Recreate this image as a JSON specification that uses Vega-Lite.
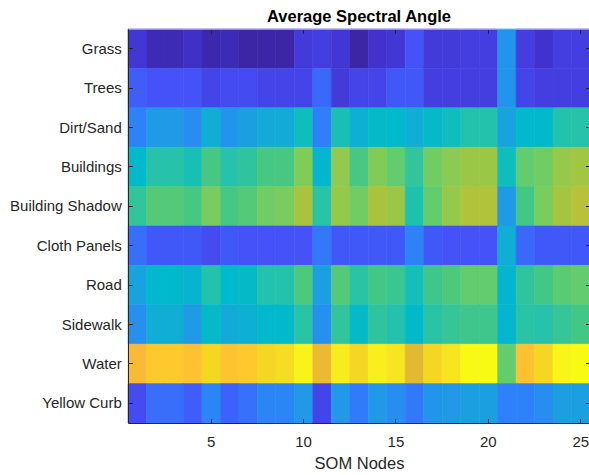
{
"$schema": "https://vega.github.io/schema/vega-lite/v6.json",
"width": 462, "height": 394,
"autosize": "none",
"padding": {"left": 128, "top": 29, "right": 0, "bottom": 52},
"title": {"text": "Average Spectral Angle", "font": "Liberation Sans", "fontSize": 16.5, "fontWeight": "bold", "color": "#000000", "anchor": "middle", "baseline": "alphabetic", "offset": 8.3, "dy": 18.7},
"data": {"values": [
{"c":"Grass","n":1,"v":0.06},{"c":"Grass","n":2,"v":0.02},{"c":"Grass","n":3,"v":0.02},{"c":"Grass","n":4,"v":0.04},{"c":"Grass","n":5,"v":0.01},{"c":"Grass","n":6,"v":0.02},{"c":"Grass","n":7,"v":0.0},{"c":"Grass","n":8,"v":0.0},{"c":"Grass","n":9,"v":0.0},{"c":"Grass","n":10,"v":0.07},{"c":"Grass","n":11,"v":0.08},{"c":"Grass","n":12,"v":0.06},{"c":"Grass","n":13,"v":0.0},{"c":"Grass","n":14,"v":0.05},{"c":"Grass","n":15,"v":0.06},{"c":"Grass","n":16,"v":0.11},{"c":"Grass","n":17,"v":0.07},{"c":"Grass","n":18,"v":0.07},{"c":"Grass","n":19,"v":0.08},{"c":"Grass","n":20,"v":0.08},{"c":"Grass","n":21,"v":0.27},{"c":"Grass","n":22,"v":0.08},{"c":"Grass","n":23,"v":0.05},{"c":"Grass","n":24,"v":0.08},{"c":"Grass","n":25,"v":0.08},
{"c":"Trees","n":1,"v":0.13},{"c":"Trees","n":2,"v":0.11},{"c":"Trees","n":3,"v":0.11},{"c":"Trees","n":4,"v":0.11},{"c":"Trees","n":5,"v":0.09},{"c":"Trees","n":6,"v":0.10},{"c":"Trees","n":7,"v":0.10},{"c":"Trees","n":8,"v":0.09},{"c":"Trees","n":9,"v":0.09},{"c":"Trees","n":10,"v":0.09},{"c":"Trees","n":11,"v":0.15},{"c":"Trees","n":12,"v":0.07},{"c":"Trees","n":13,"v":0.09},{"c":"Trees","n":14,"v":0.09},{"c":"Trees","n":15,"v":0.12},{"c":"Trees","n":16,"v":0.12},{"c":"Trees","n":17,"v":0.08},{"c":"Trees","n":18,"v":0.08},{"c":"Trees","n":19,"v":0.08},{"c":"Trees","n":20,"v":0.08},{"c":"Trees","n":21,"v":0.27},{"c":"Trees","n":22,"v":0.09},{"c":"Trees","n":23,"v":0.08},{"c":"Trees","n":24,"v":0.08},{"c":"Trees","n":25,"v":0.08},
{"c":"Dirt/Sand","n":1,"v":0.22},{"c":"Dirt/Sand","n":2,"v":0.29},{"c":"Dirt/Sand","n":3,"v":0.29},{"c":"Dirt/Sand","n":4,"v":0.25},{"c":"Dirt/Sand","n":5,"v":0.34},{"c":"Dirt/Sand","n":6,"v":0.27},{"c":"Dirt/Sand","n":7,"v":0.30},{"c":"Dirt/Sand","n":8,"v":0.33},{"c":"Dirt/Sand","n":9,"v":0.33},{"c":"Dirt/Sand","n":10,"v":0.41},{"c":"Dirt/Sand","n":11,"v":0.21},{"c":"Dirt/Sand","n":12,"v":0.43},{"c":"Dirt/Sand","n":13,"v":0.35},{"c":"Dirt/Sand","n":14,"v":0.39},{"c":"Dirt/Sand","n":15,"v":0.38},{"c":"Dirt/Sand","n":16,"v":0.34},{"c":"Dirt/Sand","n":17,"v":0.39},{"c":"Dirt/Sand","n":18,"v":0.41},{"c":"Dirt/Sand","n":19,"v":0.45},{"c":"Dirt/Sand","n":20,"v":0.45},{"c":"Dirt/Sand","n":21,"v":0.31},{"c":"Dirt/Sand","n":22,"v":0.38},{"c":"Dirt/Sand","n":23,"v":0.38},{"c":"Dirt/Sand","n":24,"v":0.45},{"c":"Dirt/Sand","n":25,"v":0.46},
{"c":"Buildings","n":1,"v":0.38},{"c":"Buildings","n":2,"v":0.46},{"c":"Buildings","n":3,"v":0.46},{"c":"Buildings","n":4,"v":0.43},{"c":"Buildings","n":5,"v":0.55},{"c":"Buildings","n":6,"v":0.46},{"c":"Buildings","n":7,"v":0.49},{"c":"Buildings","n":8,"v":0.55},{"c":"Buildings","n":9,"v":0.55},{"c":"Buildings","n":10,"v":0.63},{"c":"Buildings","n":11,"v":0.37},{"c":"Buildings","n":12,"v":0.65},{"c":"Buildings","n":13,"v":0.55},{"c":"Buildings","n":14,"v":0.63},{"c":"Buildings","n":15,"v":0.59},{"c":"Buildings","n":16,"v":0.50},{"c":"Buildings","n":17,"v":0.61},{"c":"Buildings","n":18,"v":0.64},{"c":"Buildings","n":19,"v":0.67},{"c":"Buildings","n":20,"v":0.67},{"c":"Buildings","n":21,"v":0.41},{"c":"Buildings","n":22,"v":0.59},{"c":"Buildings","n":23,"v":0.61},{"c":"Buildings","n":24,"v":0.66},{"c":"Buildings","n":25,"v":0.68},
{"c":"Building Shadow","n":1,"v":0.50},{"c":"Building Shadow","n":2,"v":0.57},{"c":"Building Shadow","n":3,"v":0.57},{"c":"Building Shadow","n":4,"v":0.55},{"c":"Building Shadow","n":5,"v":0.62},{"c":"Building Shadow","n":6,"v":0.55},{"c":"Building Shadow","n":7,"v":0.57},{"c":"Building Shadow","n":8,"v":0.61},{"c":"Building Shadow","n":9,"v":0.62},{"c":"Building Shadow","n":10,"v":0.70},{"c":"Building Shadow","n":11,"v":0.47},{"c":"Building Shadow","n":12,"v":0.66},{"c":"Building Shadow","n":13,"v":0.61},{"c":"Building Shadow","n":14,"v":0.70},{"c":"Building Shadow","n":15,"v":0.67},{"c":"Building Shadow","n":16,"v":0.44},{"c":"Building Shadow","n":17,"v":0.59},{"c":"Building Shadow","n":18,"v":0.66},{"c":"Building Shadow","n":19,"v":0.71},{"c":"Building Shadow","n":20,"v":0.71},{"c":"Building Shadow","n":21,"v":0.29},{"c":"Building Shadow","n":22,"v":0.54},{"c":"Building Shadow","n":23,"v":0.62},{"c":"Building Shadow","n":24,"v":0.69},{"c":"Building Shadow","n":25,"v":0.72},
{"c":"Cloth Panels","n":1,"v":0.16},{"c":"Cloth Panels","n":2,"v":0.12},{"c":"Cloth Panels","n":3,"v":0.12},{"c":"Cloth Panels","n":4,"v":0.12},{"c":"Cloth Panels","n":5,"v":0.10},{"c":"Cloth Panels","n":6,"v":0.12},{"c":"Cloth Panels","n":7,"v":0.11},{"c":"Cloth Panels","n":8,"v":0.11},{"c":"Cloth Panels","n":9,"v":0.11},{"c":"Cloth Panels","n":10,"v":0.11},{"c":"Cloth Panels","n":11,"v":0.19},{"c":"Cloth Panels","n":12,"v":0.12},{"c":"Cloth Panels","n":13,"v":0.12},{"c":"Cloth Panels","n":14,"v":0.12},{"c":"Cloth Panels","n":15,"v":0.12},{"c":"Cloth Panels","n":16,"v":0.22},{"c":"Cloth Panels","n":17,"v":0.12},{"c":"Cloth Panels","n":18,"v":0.11},{"c":"Cloth Panels","n":19,"v":0.11},{"c":"Cloth Panels","n":20,"v":0.11},{"c":"Cloth Panels","n":21,"v":0.34},{"c":"Cloth Panels","n":22,"v":0.15},{"c":"Cloth Panels","n":23,"v":0.12},{"c":"Cloth Panels","n":24,"v":0.12},{"c":"Cloth Panels","n":25,"v":0.12},
{"c":"Road","n":1,"v":0.31},{"c":"Road","n":2,"v":0.38},{"c":"Road","n":3,"v":0.38},{"c":"Road","n":4,"v":0.36},{"c":"Road","n":5,"v":0.45},{"c":"Road","n":6,"v":0.38},{"c":"Road","n":7,"v":0.39},{"c":"Road","n":8,"v":0.45},{"c":"Road","n":9,"v":0.45},{"c":"Road","n":10,"v":0.56},{"c":"Road","n":11,"v":0.30},{"c":"Road","n":12,"v":0.57},{"c":"Road","n":13,"v":0.47},{"c":"Road","n":14,"v":0.54},{"c":"Road","n":15,"v":0.52},{"c":"Road","n":16,"v":0.42},{"c":"Road","n":17,"v":0.53},{"c":"Road","n":18,"v":0.56},{"c":"Road","n":19,"v":0.59},{"c":"Road","n":20,"v":0.59},{"c":"Road","n":21,"v":0.37},{"c":"Road","n":22,"v":0.49},{"c":"Road","n":23,"v":0.54},{"c":"Road","n":24,"v":0.58},{"c":"Road","n":25,"v":0.59},
{"c":"Sidewalk","n":1,"v":0.26},{"c":"Sidewalk","n":2,"v":0.34},{"c":"Sidewalk","n":3,"v":0.34},{"c":"Sidewalk","n":4,"v":0.29},{"c":"Sidewalk","n":5,"v":0.39},{"c":"Sidewalk","n":6,"v":0.33},{"c":"Sidewalk","n":7,"v":0.35},{"c":"Sidewalk","n":8,"v":0.38},{"c":"Sidewalk","n":9,"v":0.38},{"c":"Sidewalk","n":10,"v":0.47},{"c":"Sidewalk","n":11,"v":0.26},{"c":"Sidewalk","n":12,"v":0.50},{"c":"Sidewalk","n":13,"v":0.39},{"c":"Sidewalk","n":14,"v":0.49},{"c":"Sidewalk","n":15,"v":0.45},{"c":"Sidewalk","n":16,"v":0.38},{"c":"Sidewalk","n":17,"v":0.47},{"c":"Sidewalk","n":18,"v":0.51},{"c":"Sidewalk","n":19,"v":0.53},{"c":"Sidewalk","n":20,"v":0.53},{"c":"Sidewalk","n":21,"v":0.37},{"c":"Sidewalk","n":22,"v":0.47},{"c":"Sidewalk","n":23,"v":0.46},{"c":"Sidewalk","n":24,"v":0.51},{"c":"Sidewalk","n":25,"v":0.54},
{"c":"Water","n":1,"v":0.84},{"c":"Water","n":2,"v":0.88},{"c":"Water","n":3,"v":0.88},{"c":"Water","n":4,"v":0.86},{"c":"Water","n":5,"v":0.92},{"c":"Water","n":6,"v":0.87},{"c":"Water","n":7,"v":0.88},{"c":"Water","n":8,"v":0.92},{"c":"Water","n":9,"v":0.93},{"c":"Water","n":10,"v":0.98},{"c":"Water","n":11,"v":0.80},{"c":"Water","n":12,"v":0.96},{"c":"Water","n":13,"v":0.92},{"c":"Water","n":14,"v":0.97},{"c":"Water","n":15,"v":0.95},{"c":"Water","n":16,"v":0.78},{"c":"Water","n":17,"v":0.92},{"c":"Water","n":18,"v":0.95},{"c":"Water","n":19,"v":1.0},{"c":"Water","n":20,"v":1.0},{"c":"Water","n":21,"v":0.59},{"c":"Water","n":22,"v":0.86},{"c":"Water","n":23,"v":0.92},{"c":"Water","n":24,"v":0.99},{"c":"Water","n":25,"v":1.0},
{"c":"Yellow Curb","n":1,"v":0.10},{"c":"Yellow Curb","n":2,"v":0.16},{"c":"Yellow Curb","n":3,"v":0.16},{"c":"Yellow Curb","n":4,"v":0.13},{"c":"Yellow Curb","n":5,"v":0.23},{"c":"Yellow Curb","n":6,"v":0.14},{"c":"Yellow Curb","n":7,"v":0.17},{"c":"Yellow Curb","n":8,"v":0.23},{"c":"Yellow Curb","n":9,"v":0.23},{"c":"Yellow Curb","n":10,"v":0.28},{"c":"Yellow Curb","n":11,"v":0.09},{"c":"Yellow Curb","n":12,"v":0.28},{"c":"Yellow Curb","n":13,"v":0.20},{"c":"Yellow Curb","n":14,"v":0.28},{"c":"Yellow Curb","n":15,"v":0.25},{"c":"Yellow Curb","n":16,"v":0.19},{"c":"Yellow Curb","n":17,"v":0.27},{"c":"Yellow Curb","n":18,"v":0.28},{"c":"Yellow Curb","n":19,"v":0.30},{"c":"Yellow Curb","n":20,"v":0.30},{"c":"Yellow Curb","n":21,"v":0.22},{"c":"Yellow Curb","n":22,"v":0.22},{"c":"Yellow Curb","n":23,"v":0.25},{"c":"Yellow Curb","n":24,"v":0.30},{"c":"Yellow Curb","n":25,"v":0.30}
]},
"layer": [
 {"mark": {"type": "rect", "strokeWidth": 0.6},
  "encoding": {
   "x": {"field": "n", "type": "ordinal", "scale": {"paddingInner": 0, "paddingOuter": 0},
     "axis": {"orient": "bottom", "values": [5, 10, 15, 20, 25], "labelAngle": 0, "tickSize": -4.5, "labelPadding": 16, "labelFont": "Liberation Sans", "labelFontSize": 15, "labelColor": "#262626", "tickColor": "#262626", "domainColor": "#262626", "title": "SOM Nodes", "titleFont": "Liberation Sans", "titleFontSize": 16.5, "titleFontWeight": "normal", "titleColor": "#262626", "titleBaseline": "alphabetic", "titleY": 45.3, "grid": false}},
   "y": {"field": "c", "type": "ordinal", "sort": ["Grass", "Trees", "Dirt/Sand", "Buildings", "Building Shadow", "Cloth Panels", "Road", "Sidewalk", "Water", "Yellow Curb"], "scale": {"paddingInner": 0, "paddingOuter": 0},
     "axis": {"orient": "left", "tickSize": -4.5, "labelPadding": 11.2, "labelFont": "Liberation Sans", "labelFontSize": 15, "labelColor": "#262626", "tickColor": "#262626", "domainColor": "#262626", "title": null, "grid": false}},
   "color": {"field": "v", "type": "quantitative", "legend": null,
     "scale": {"type": "linear", "interpolate": "rgb",
       "domain": [0, 0.05, 0.08, 0.11, 0.16, 0.22, 0.27, 0.33, 0.38, 0.45, 0.5, 0.55, 0.6, 0.65, 0.7, 0.78, 0.84, 0.88, 0.92, 0.96, 1.0],
       "range": ["#3c26a5", "#4132cd", "#443ee1", "#4452f7", "#376efa", "#2d82f8", "#2394eb", "#14aad7", "#00b9ca", "#23c2ac", "#32c49b", "#46c882", "#69cd69", "#91ca4e", "#aac33c", "#e4b932", "#fab937", "#ffc82d", "#f5d723", "#f8eb1e", "#f9fa14"]}},
   "stroke": {"field": "v", "type": "quantitative", "legend": null,
     "scale": {"type": "linear", "interpolate": "rgb",
       "domain": [0, 0.05, 0.08, 0.11, 0.16, 0.22, 0.27, 0.33, 0.38, 0.45, 0.5, 0.55, 0.6, 0.65, 0.7, 0.78, 0.84, 0.88, 0.92, 0.96, 1.0],
       "range": ["#3c26a5", "#4132cd", "#443ee1", "#4452f7", "#376efa", "#2d82f8", "#2394eb", "#14aad7", "#00b9ca", "#23c2ac", "#32c49b", "#46c882", "#69cd69", "#91ca4e", "#aac33c", "#e4b932", "#fab937", "#ffc82d", "#f5d723", "#f8eb1e", "#f9fa14"]}}
  }},
 {"mark": {"type": "rect", "opacity": 0},
  "encoding": {
   "x": {"field": "n", "type": "ordinal", "axis": {"orient": "top", "values": [5, 10, 15, 20, 25], "labels": false, "title": null, "tickSize": -4.5, "tickColor": "#262626", "domainColor": "#9a9a9a", "grid": false}},
   "y": {"field": "c", "type": "ordinal", "sort": ["Grass", "Trees", "Dirt/Sand", "Buildings", "Building Shadow", "Cloth Panels", "Road", "Sidewalk", "Water", "Yellow Curb"], "axis": {"orient": "right", "labels": false, "title": null, "tickSize": -4.5, "tickColor": "#262626", "domainColor": "#262626", "grid": false}}
  }}
],
"resolve": {"axis": {"x": "independent", "y": "independent"}},
"config": {"view": {"stroke": null}}
}
